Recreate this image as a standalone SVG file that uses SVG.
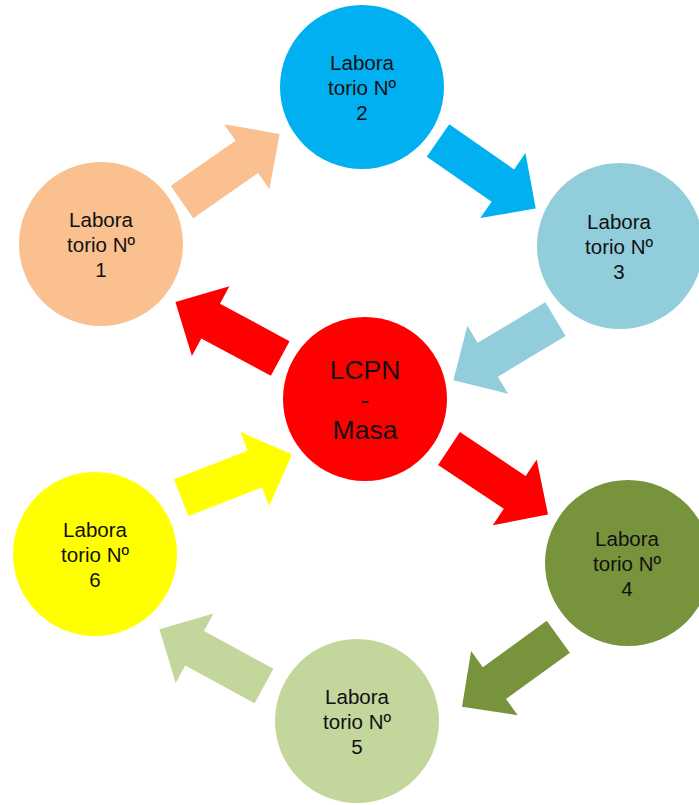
<svg xmlns="http://www.w3.org/2000/svg" xmlns:xlink="http://www.w3.org/1999/xlink" width="699" height="805" viewBox="0 0 699 805">
<style>
text{font-family:"Liberation Sans",Arial,sans-serif;fill:#111;text-anchor:middle}
.lab{font-size:20.5px}
.main{font-size:26.5px}
</style>
<defs>
<polygon id="arrow" points="0,-19.7 79,-19.7 79,-39.6 119,0 79,39.6 79,19.7 0,19.7"/>
</defs>
<rect width="699" height="805" fill="#fff"/>
<g id="connectors">
<use xlink:href="#arrow" href="#arrow" fill="#FAC090" transform="translate(182,202) rotate(-34.9)"/>
<use xlink:href="#arrow" href="#arrow" fill="#00B0F0" transform="translate(438,140.5) rotate(34.8)"/>
<use xlink:href="#arrow" href="#arrow" fill="#92CDDC" transform="translate(555.5,319.2) rotate(149.1)"/>
<use xlink:href="#arrow" href="#arrow" fill="#FF0000" transform="translate(280.2,358.5) rotate(208.3)"/>
<use xlink:href="#arrow" href="#arrow" fill="#FF0000" transform="translate(449,448.5) rotate(33.7)"/>
<use xlink:href="#arrow" href="#arrow" fill="#77933C" transform="translate(558.3,636.7) rotate(144)"/>
<use xlink:href="#arrow" href="#arrow" fill="#C3D69B" transform="translate(264,686) rotate(208.5)"/>
<use xlink:href="#arrow" href="#arrow" fill="#FFFF00" transform="translate(181.2,497.7) rotate(-21.3)"/>
</g>
<g id="lab1">
<circle cx="101" cy="244" r="82" fill="#FAC090"/>
<text class="lab" x="101" y="227">Labora</text>
<text class="lab" x="101" y="252">torio Nº</text>
<text class="lab" x="101" y="277">1</text>
</g>
<g id="lab2">
<circle cx="362" cy="87" r="82" fill="#00B0F0"/>
<text class="lab" x="362" y="70">Labora</text>
<text class="lab" x="362" y="95">torio Nº</text>
<text class="lab" x="362" y="120">2</text>
</g>
<g id="lab3">
<circle cx="620" cy="246" r="83" fill="#92CDDC"/>
<text class="lab" x="619" y="229">Labora</text>
<text class="lab" x="619" y="254">torio Nº</text>
<text class="lab" x="619" y="279">3</text>
</g>
<g id="lcpn">
<circle cx="365" cy="399" r="82" fill="#FF0000"/>
<text class="main" x="365" y="379">LCPN</text>
<text class="main" x="365" y="409">-</text>
<text class="main" x="365" y="439">Masa</text>
</g>
<g id="lab4">
<circle cx="628" cy="563" r="83" fill="#77933C"/>
<text class="lab" x="627" y="546">Labora</text>
<text class="lab" x="627" y="571">torio Nº</text>
<text class="lab" x="627" y="596">4</text>
</g>
<g id="lab5">
<circle cx="357" cy="721" r="82" fill="#C3D69B"/>
<text class="lab" x="357" y="704">Labora</text>
<text class="lab" x="357" y="729">torio Nº</text>
<text class="lab" x="357" y="754">5</text>
</g>
<g id="lab6">
<circle cx="95" cy="554" r="82" fill="#FFFF00"/>
<text class="lab" x="95" y="537">Labora</text>
<text class="lab" x="95" y="562">torio Nº</text>
<text class="lab" x="95" y="587">6</text>
</g>
</svg>
